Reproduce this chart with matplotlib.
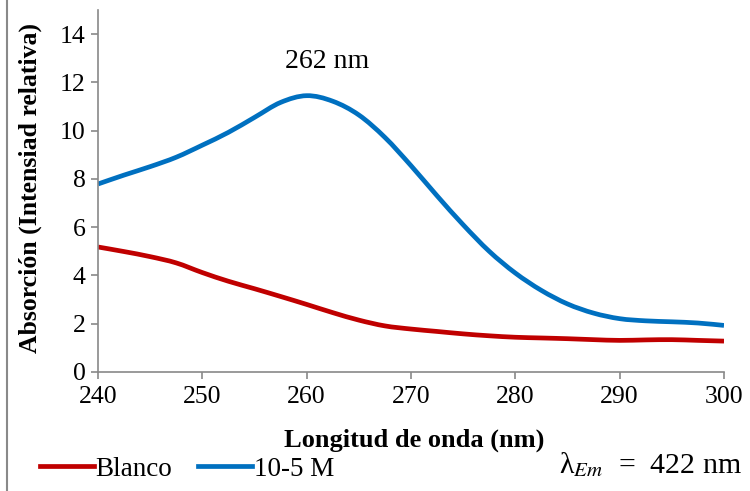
import matplotlib
matplotlib.use("Agg")
import numpy as np
import matplotlib.pyplot as plt
from matplotlib.lines import Line2D
from matplotlib.path import Path
from matplotlib.patches import PathPatch

plt.rcParams['font.family'] = ['Liberation Serif', 'DejaVu Serif']
plt.rcParams['mathtext.fontset'] = 'stix'

# Wavelength (nm)
wavelength = [240, 242.5, 245, 247.5, 250, 252.5, 255, 257.5, 260, 262.5,
              265, 267.5, 270, 272.5, 275, 277.5, 280, 282.5, 285, 287.5,
              290, 292.5, 295, 297.5, 300]

# Blank spectrum
blanco = [5.18, 4.99, 4.78, 4.52, 4.12, 3.76, 3.45, 3.13, 2.80, 2.46,
          2.15, 1.91, 1.78, 1.68, 1.58, 1.50, 1.44, 1.41, 1.38, 1.34,
          1.31, 1.33, 1.34, 1.31, 1.28]

# 10-5 M sample spectrum
muestra = [7.79, 8.16, 8.51, 8.90, 9.40, 9.93, 10.55, 11.17, 11.45, 11.22,
           10.65, 9.72, 8.55, 7.30, 6.10, 5.00, 4.10, 3.38, 2.82, 2.44,
           2.21, 2.12, 2.08, 2.03, 1.93]

series_names = ["Blanco", "10-5 M"]
x_ticks = [240, 250, 260, 270, 280, 290, 300]
y_ticks = [0, 2, 4, 6, 8, 10, 12, 14]

red = "#C00000"
blue = "#0070C0"
grey = "#898989"
LW = 3.4


def smooth_path(xs, ys):
    """Smoothed line through the points (Catmull-Rom as cubic Bezier)."""
    p = np.column_stack([xs, ys]).astype(float)
    ext = np.vstack([p[0], p, p[-1]])
    verts = [p[0]]
    codes = [Path.MOVETO]
    for i in range(1, len(ext) - 2):
        p0, p1, p2, p3 = ext[i - 1], ext[i], ext[i + 1], ext[i + 2]
        verts += [p1 + (p2 - p0) / 6, p2 - (p3 - p1) / 6, p2]
        codes += [Path.CURVE4] * 3
    return Path(verts, codes)


fig = plt.figure(figsize=(7.5, 4.91), dpi=100)
ax = fig.add_axes([98 / 750, 1 - 372 / 491, (724 - 98) / 750, (372 - 10) / 491])

for ys, col in ((blanco, red), (muestra, blue)):
    ax.add_patch(PathPatch(smooth_path(wavelength, ys), fill=False,
                           edgecolor=col, lw=LW, capstyle='butt',
                           joinstyle='round'))

ax.set_xlim(240, 300)
ax.set_ylim(0, 15)
ax.set_xticks(x_ticks)
ax.set_yticks(y_ticks)
ax.tick_params(axis='both', direction='out', length=5, width=1.2,
               color=grey, labelsize=18.5, pad=4)
ax.tick_params(axis='x', pad=5)
for side in ('top', 'right'):
    ax.spines[side].set_visible(False)
for side in ('left', 'bottom'):
    ax.spines[side].set_color(grey)
    ax.spines[side].set_linewidth(1.2)

ax.text(262, 12.85, "262 nm", ha='center', va='center', fontsize=20)

fig.text(30 / 750, 1 - 188 / 491, "Absorción (Intensiad relativa)",
         rotation=90, ha='center', va='center', fontsize=18.5, fontweight='bold')
fig.text(414 / 750, 1 - 440 / 491, "Longitud de onda (nm)",
         ha='center', va='center', fontsize=19, fontweight='bold')

handles = [Line2D([], [], color=red, lw=LW),
           Line2D([], [], color=blue, lw=LW)]
fig.legend(handles, series_names, loc='center left',
           bbox_to_anchor=(40 / 750, 1 - 469 / 491), ncol=2, frameon=False,
           fontsize=19.5, handlelength=2.0, handletextpad=0.05,
           columnspacing=0.95, borderaxespad=0, borderpad=0)

fig.text(742 / 750, 1 - 465 / 491, r"λ$_{Em}$  =  422 nm",
         ha='right', va='center', fontsize=21.5)

# Chart frame edge on the left
fig.add_artist(Line2D([7 / 750, 7 / 750], [0, 1], color=grey, lw=1.5,
                      transform=fig.transFigure))

fig.savefig("out.png", dpi=100)
